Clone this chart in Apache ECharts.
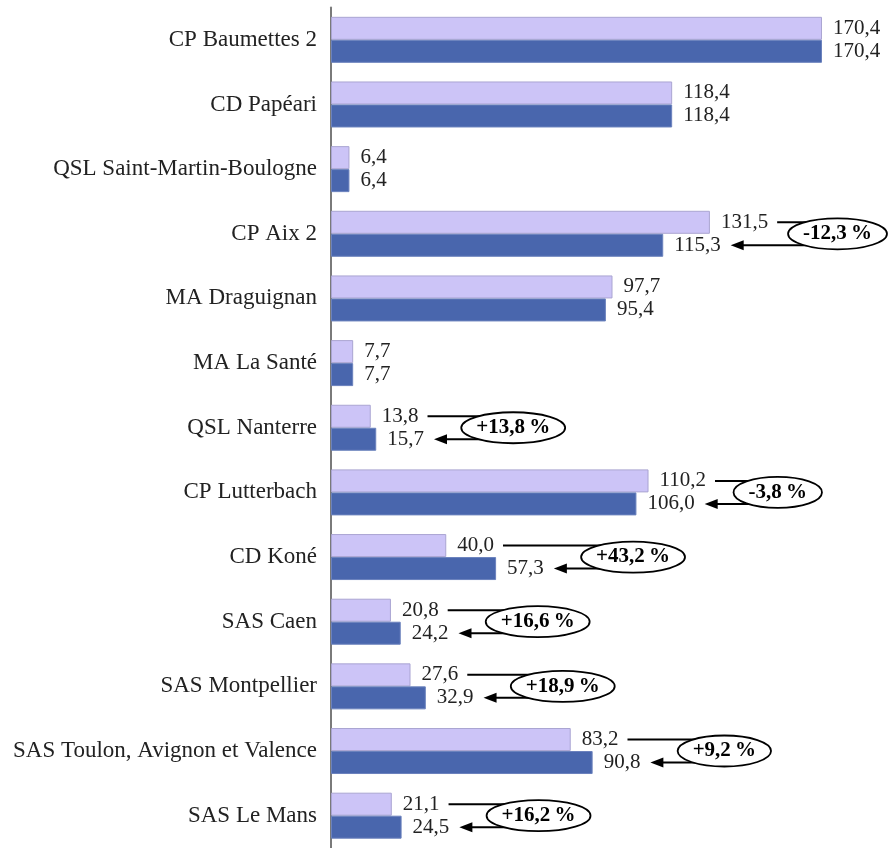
<!DOCTYPE html>
<html>
<head>
<meta charset="utf-8">
<script src="https://cdn.jsdelivr.net/npm/echarts@6/dist/echarts.min.js"></script>
<style>
  html, body { margin: 0; padding: 0; background: #fff; }
  #chart { width: 888px; height: 848px; }
</style>
</head>
<body>
<div id="chart"></div>
<script>
// données
var categories = [
  "CP Baumettes 2", "CD Papéari", "QSL Saint-Martin-Boulogne", "CP Aix 2",
  "MA Draguignan", "MA La Santé", "QSL Nanterre", "CP Lutterbach", "CD Koné",
  "SAS Caen", "SAS Montpellier", "SAS Toulon, Avignon et Valence", "SAS Le Mans"
];
var before = [170.4, 118.4, 6.4, 131.5, 97.7, 7.7, 13.8, 110.2, 40.0, 20.8, 27.6, 83.2, 21.1];
var after = [170.4, 118.4, 6.4, 115.3, 95.4, 7.7, 15.7, 106.0, 57.3, 24.2, 32.9, 90.8, 24.5];
var changes = [null, null, null, "-12,3\u2009%", null, null, "+13,8\u2009%", "-3,8\u2009%", "+43,2\u2009%",
  "+16,6\u2009%", "+18,9\u2009%", "+9,2\u2009%", "+16,2\u2009%"];

var FONT = '"Liberation Serif", "Times New Roman", serif';
var barW = 23;

var measure = document.createElement("canvas").getContext("2d");
function textWidth(s, bold) {
  measure.font = (bold ? "bold " : "") + "21px " + FONT;
  return measure.measureText(s).width;
}
function fmt(v) {
  return v.toFixed(1).replace(".", ",");
}

var annotData = [];
changes.forEach(function (c, i) {
  if (c) annotData.push([0, i]);
});

var myChart = echarts.init(document.getElementById("chart"));

var option = {
  animation: false,
  grid: { left: 331, right: 38.35, top: 7.5, height: 846, containLabel: false },
  xAxis: {
    type: "value", min: 0, max: 180,
    show: false
  },
  yAxis: {
    type: "category",
    inverse: true,
    data: categories,
    axisLine: { lineStyle: { color: "#7a7a7a", width: 2 } },
    axisTick: { show: false },
    axisLabel: { color: "#222", fontFamily: FONT, fontSize: 23, margin: 14 }
  },
  series: [
    {
      type: "bar",
      data: before,
      barWidth: barW,
      barGap: 0,
      itemStyle: { color: "#ccc4f7", borderColor: "#aaa5d2", borderWidth: 1 },
      label: {
        show: true, position: "right", distance: 11,
        color: "#222", fontFamily: FONT, fontSize: 21,
        formatter: function (p) { return fmt(p.value); }
      }
    },
    {
      type: "bar",
      data: after,
      barWidth: barW,
      barGap: 0,
      itemStyle: { color: "#4966ad", borderColor: "#6b82bd", borderWidth: 1 },
      label: {
        show: true, position: "right", distance: 11,
        color: "#222", fontFamily: FONT, fontSize: 21,
        formatter: function (p) { return fmt(p.value); }
      }
    },
    {
      type: "custom",
      coordinateSystem: "cartesian2d",
      encode: { x: 0, y: 1 },
      data: annotData,
      z: 5,
      renderItem: function (params, api) {
        var i = api.value(1);
        var yc = api.coord([0, i])[1];
        var end1 = api.coord([before[i], i])[0];
        var end2 = api.coord([after[i], i])[0];
        var yTop = yc - barW / 2;
        var yBot = yc + barW / 2;
        var lab1End = end1 + 11 + textWidth(fmt(before[i]));
        var lab2End = end2 + 11 + textWidth(fmt(after[i]));
        var ew = textWidth(changes[i], true) + 30;
        var eh = 31;
        var left = Math.min(Math.max(end1, end2) + 85, api.getWidth() - 1 - ew);
        var cx = left + ew / 2;
        var tip = lab2End + 10;
        var black = { stroke: "#000", lineWidth: 2 };
        return {
          type: "group",
          children: [
            { type: "line", shape: { x1: lab1End + 9, y1: yTop, x2: cx, y2: yTop }, style: black },
            { type: "line", shape: { x1: tip + 10, y1: yBot, x2: cx, y2: yBot }, style: black },
            {
              type: "polygon",
              shape: { points: [[tip, yBot], [tip + 13, yBot - 5], [tip + 13, yBot + 5]] },
              style: { fill: "#000" }
            },
            {
              type: "ellipse",
              shape: { cx: cx, cy: yc, rx: ew / 2, ry: eh / 2 },
              style: { fill: "#fff", stroke: "#000", lineWidth: 1.8 }
            },
            {
              type: "text",
              x: cx, y: yc,
              style: {
                text: changes[i], fill: "#000", font: "bold 21px " + FONT,
                align: "center", verticalAlign: "middle"
              }
            }
          ]
        };
      }
    }
  ]
};

option && myChart.setOption(option);
</script>
</body>
</html>
